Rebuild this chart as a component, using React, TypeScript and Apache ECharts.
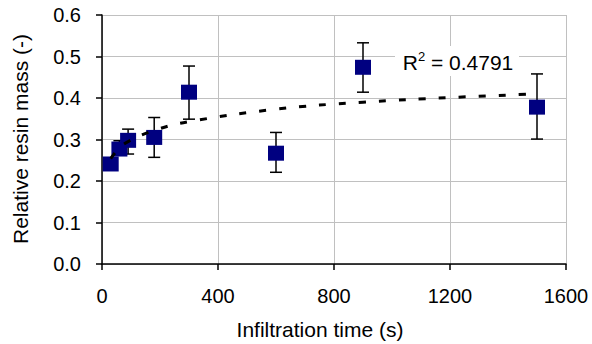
import React, { useEffect, useRef } from "react";
import * as echarts from "echarts";

const times = [30, 60, 90, 180, 300, 600, 900, 1500];
const resinMass = [0.241, 0.277, 0.298, 0.305, 0.414, 0.267, 0.474, 0.378];
const errLow = [0.232, 0.262, 0.265, 0.257, 0.349, 0.221, 0.414, 0.301];
const errHigh = [0.25, 0.297, 0.325, 0.353, 0.477, 0.317, 0.533, 0.458];

const trendX = [30, 60, 90, 180, 300, 600, 900, 1200, 1500];
const trendY = [0.254, 0.28, 0.295, 0.322, 0.343, 0.373, 0.39, 0.401, 0.41];

const xTicks = [0, 400, 800, 1200, 1600];
const yTicks = [0, 0.1, 0.2, 0.3, 0.4, 0.5, 0.6];
const r2Value = "0.4791";

export default function App() {
  const ref = useRef<HTMLDivElement>(null);
  useEffect(() => {
    if (!ref.current) return;
    const chart = echarts.init(ref.current, null, { renderer: "svg" });
    const font = "'Liberation Sans', Arial, sans-serif";
    const scatterData = times.map((t, i) => [t, resinMass[i]]);
    const errData = times.map((t, i) => [t, errLow[i], errHigh[i]]);
    const trendData = trendX.map((t, i) => [t, trendY[i]]);
    chart.setOption({
      animation: false,
      backgroundColor: "#ffffff",
      grid: { left: 102, right: 26, top: 15, bottom: 80 },
      xAxis: {
        type: "value",
        min: xTicks[0],
        max: xTicks[xTicks.length - 1],
        interval: 400,
        axisLine: { show: true, lineStyle: { color: "#000", width: 1.5 } },
        axisTick: { show: true, length: 6, lineStyle: { color: "#000", width: 1.5 } },
        axisLabel: {
          color: "#000",
          fontSize: 20,
          fontFamily: font,
          margin: 22,
          formatter: (v: number) => String(v),
        },
        splitLine: { show: true, lineStyle: { color: "#c0c0c0", width: 1 } },
      },
      yAxis: {
        type: "value",
        min: yTicks[0],
        max: yTicks[yTicks.length - 1],
        interval: 0.1,
        axisLine: { show: true, lineStyle: { color: "#000", width: 1.5 } },
        axisTick: { show: true, length: 6, lineStyle: { color: "#000", width: 1.5 } },
        axisLabel: {
          color: "#000",
          fontSize: 20,
          fontFamily: font,
          margin: 21,
          formatter: (v: number) => v.toFixed(1),
        },
        splitLine: { show: true, lineStyle: { color: "#c0c0c0", width: 1 } },
      },
      series: [
        {
          type: "custom",
          z: 2,
          data: errData,
          renderItem: (params: any, api: any) => {
            const x = api.value(0);
            const lo = api.coord([x, api.value(1)]);
            const hi = api.coord([x, api.value(2)]);
            const cap = 6;
            const style = { stroke: "#000", lineWidth: 1.5 };
            return {
              type: "group",
              children: [
                { type: "line", shape: { x1: lo[0], y1: lo[1], x2: hi[0], y2: hi[1] }, style },
                { type: "line", shape: { x1: lo[0] - cap, y1: lo[1], x2: lo[0] + cap, y2: lo[1] }, style },
                { type: "line", shape: { x1: hi[0] - cap, y1: hi[1], x2: hi[0] + cap, y2: hi[1] }, style },
              ],
            };
          },
        },
        {
          type: "scatter",
          z: 3,
          data: scatterData,
          symbol: "rect",
          symbolSize: [16, 15],
          itemStyle: { color: "#000080", opacity: 1 },
        },
        {
          type: "line",
          z: 4,
          data: trendData,
          smooth: 0.4,
          showSymbol: false,
          symbol: "none",
          lineStyle: { color: "#000", width: 3, type: [7, 13] },
        },
      ],
      graphic: [
        {
          type: "text",
          x: 20,
          y: 139,
          rotation: Math.PI / 2,
          style: {
            text: "Relative resin mass (-)",
            fontSize: 21,
            fontFamily: font,
            fill: "#000",
            textAlign: "center",
            textVerticalAlign: "middle",
          },
        },
        {
          type: "text",
          x: 320,
          y: 329,
          style: {
            text: "Infiltration time (s)",
            fontSize: 21,
            fontFamily: font,
            fill: "#000",
            textAlign: "center",
            textVerticalAlign: "middle",
          },
        },
        {
          type: "rect",
          z: 10,
          shape: { x: 395, y: 46, width: 124, height: 30 },
          style: { fill: "#fff" },
        },
        {
          type: "text",
          z: 11,
          x: 458,
          y: 62,
          style: {
            text: "{r|R}{s|2}{r| = " + r2Value + "}",
            fontFamily: font,
            fill: "#000",
            textAlign: "center",
            textVerticalAlign: "middle",
            rich: {
              r: { fontSize: 21, lineHeight: 24, fontFamily: font, fill: "#000" },
              s: { fontSize: 13, lineHeight: 14, verticalAlign: "top", fontFamily: font, fill: "#000" },
            },
          },
        },
      ],
    });
    return () => chart.dispose();
  }, []);
  return (
    <div
      ref={ref}
      style={{ position: "fixed", left: 0, top: 0, width: 592, height: 344, background: "#fff" }}
    />
  );
}
